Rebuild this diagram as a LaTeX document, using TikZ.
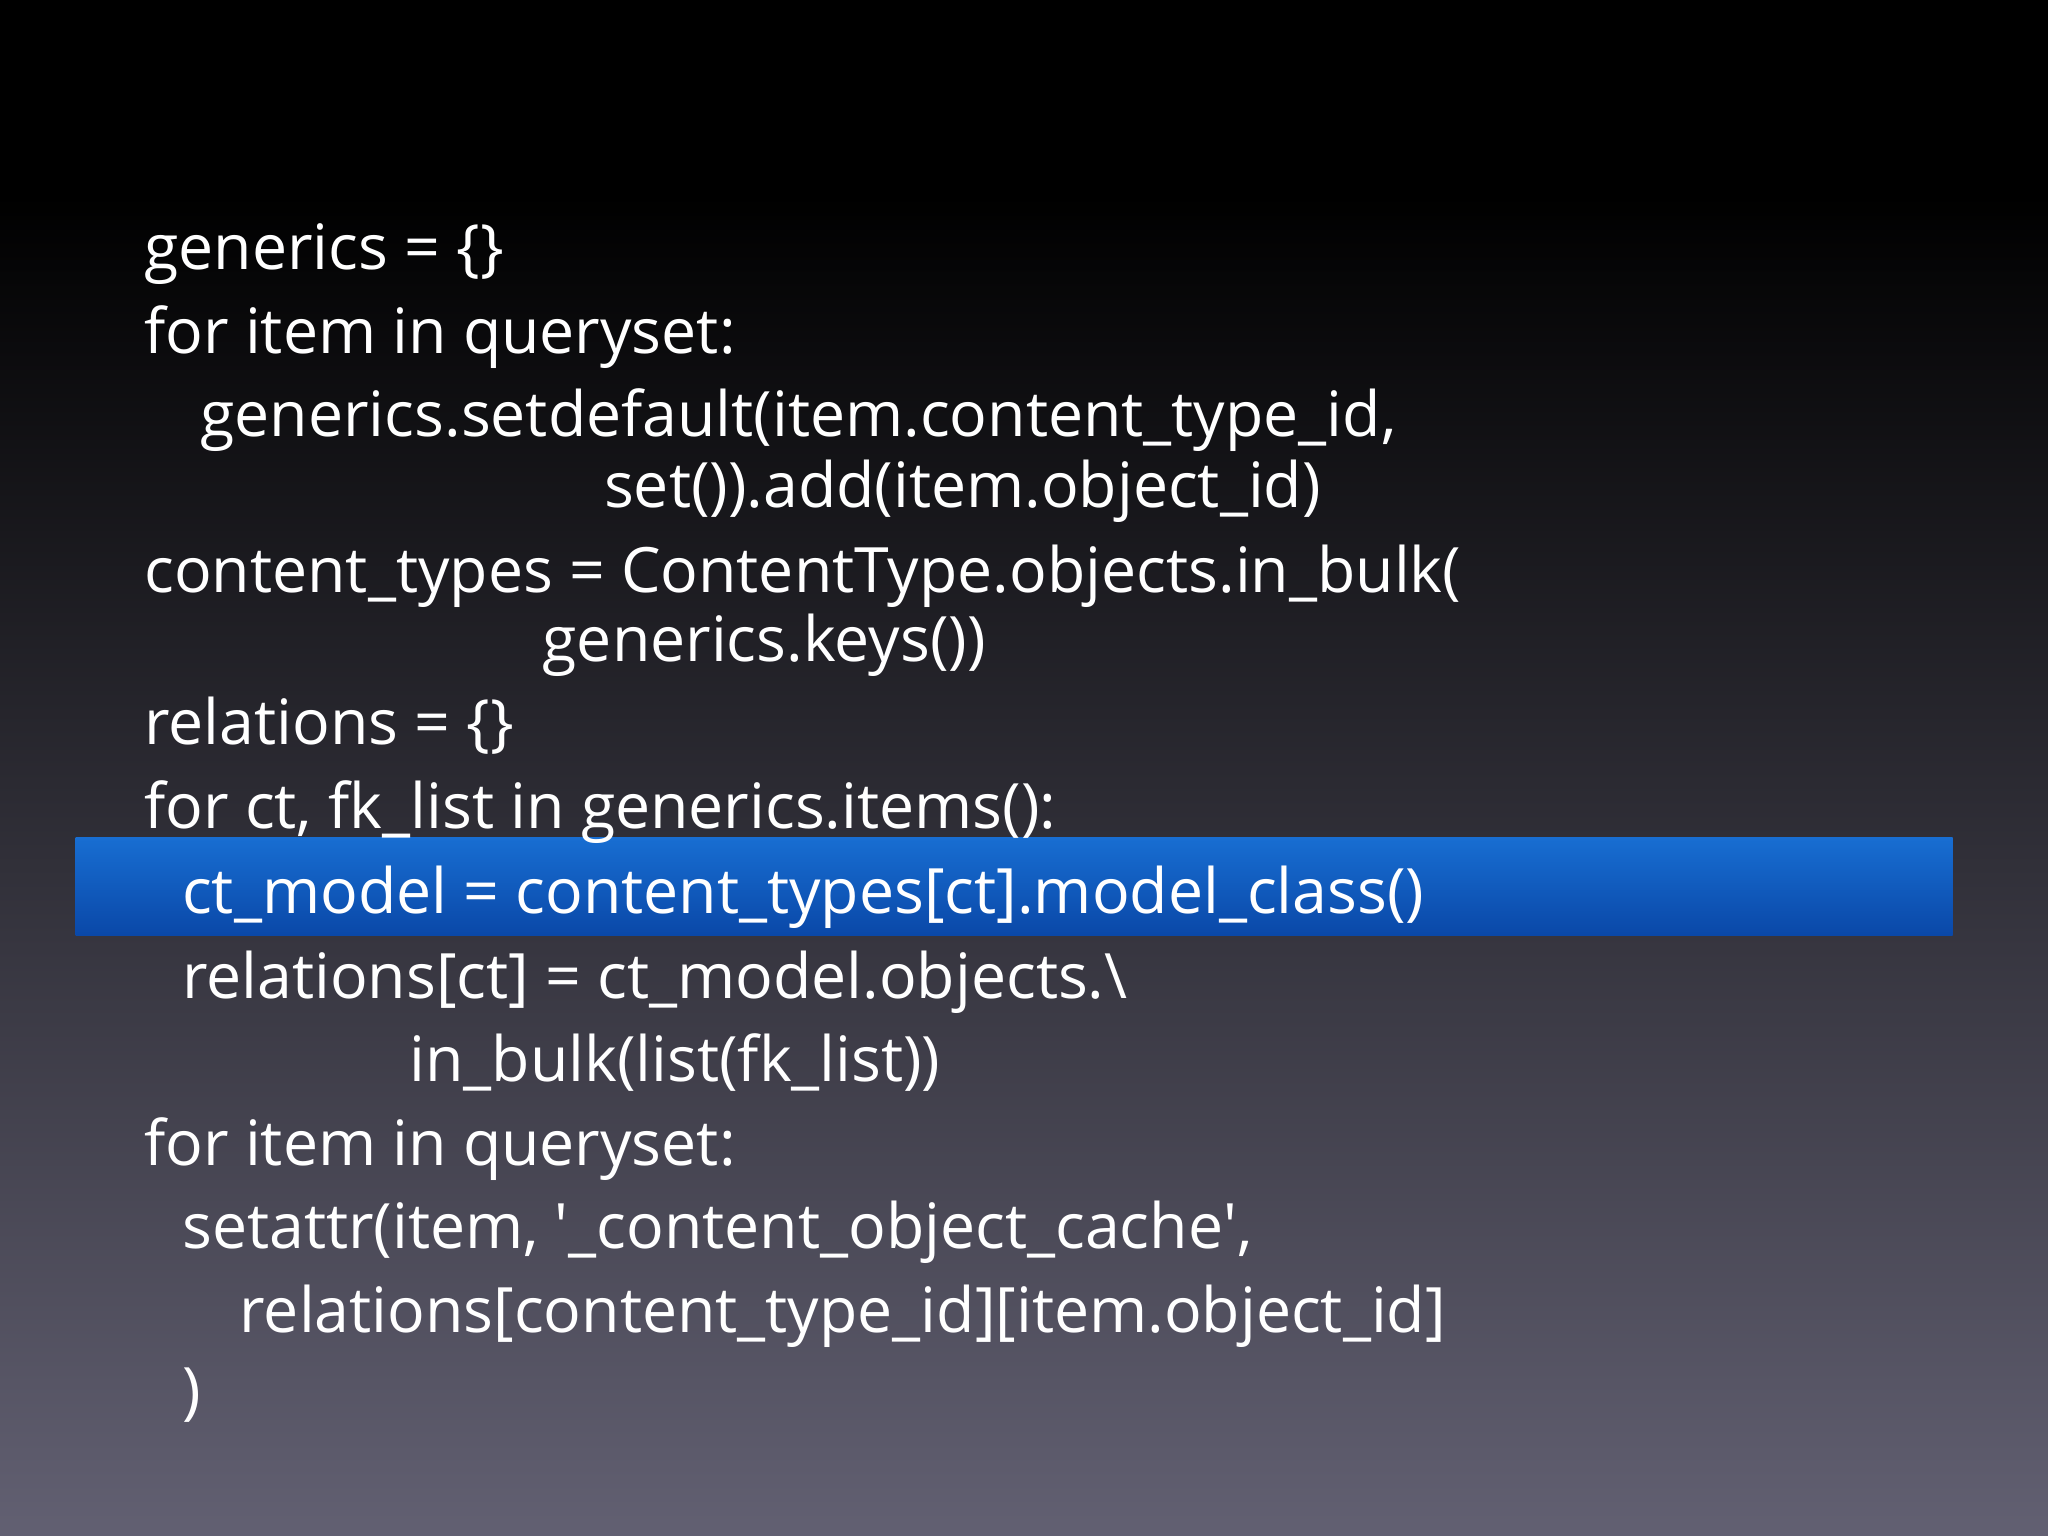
\documentclass[tikz,border=0pt]{standalone}
\usepackage{fontspec}
\setmainfont{Open Sans}
\begin{document}
\begin{tikzpicture}[code/.style={anchor=base west,inner sep=0pt,text=white,font=\fontsize{17.8}{22}\selectfont}]
\useasboundingbox (0,0) rectangle (20.48,15.36);
\fill[black] (0,13.4) rectangle (20.48,15.36);
\shade[top color=black,bottom color={rgb,255:red,98;green,96;blue,114}] (0,0) rectangle (20.48,13.41);
\shade[top color={rgb,255:red,24;green,110;blue,210},bottom color={rgb,255:red,10;green,72;blue,168}] (0.757,6.009) rectangle (19.525,6.989);
\begin{scope}[yshift=-0.07cm]
\node[code] (l1) at (1.437,12.735) {generics = \{\}};
\node[code] (l2) at (1.437,11.899) {for item in queryset:};
\node[code] (l3) at (1.998,11.063) {generics.setdefault(item.content\_type\_id,};
\node[code] (l4) at (6.034,10.358) {set()).add(item.object\_id)};
\node[code] (l5) at (1.437,9.509) {content\_types = ContentType.objects.in\_bulk(};
\node[code] (l6) at (5.420,8.817) {generics.keys())};
\node[code] (l7) at (1.437,7.981) {relations = \{\}};
\node[code] (l8) at (1.437,7.145) {for ct, fk\_list in generics.items():};
\node[code] (l9) at (1.815,6.296) {ct\_model = content\_types[ct].model\_class()};
\node[code] (l10) at (1.815,5.447) {relations[ct] = ct\_model.objects.\textbackslash};
\node[code] (l11) at (4.088,4.612) {in\_bulk(list(fk\_list))};
\node[code] (l12) at (1.437,3.776) {for item in queryset:};
\node[code] (l13) at (1.815,2.940) {setattr(item, \textquotesingle\_content\_object\_cache\textquotesingle,};
\node[code] (l14) at (2.390,2.104) {relations[content\_type\_id][item.object\_id]};
\node[code] (l15) at (1.815,1.30) {)};
\end{scope}
\end{tikzpicture}
\end{document}
